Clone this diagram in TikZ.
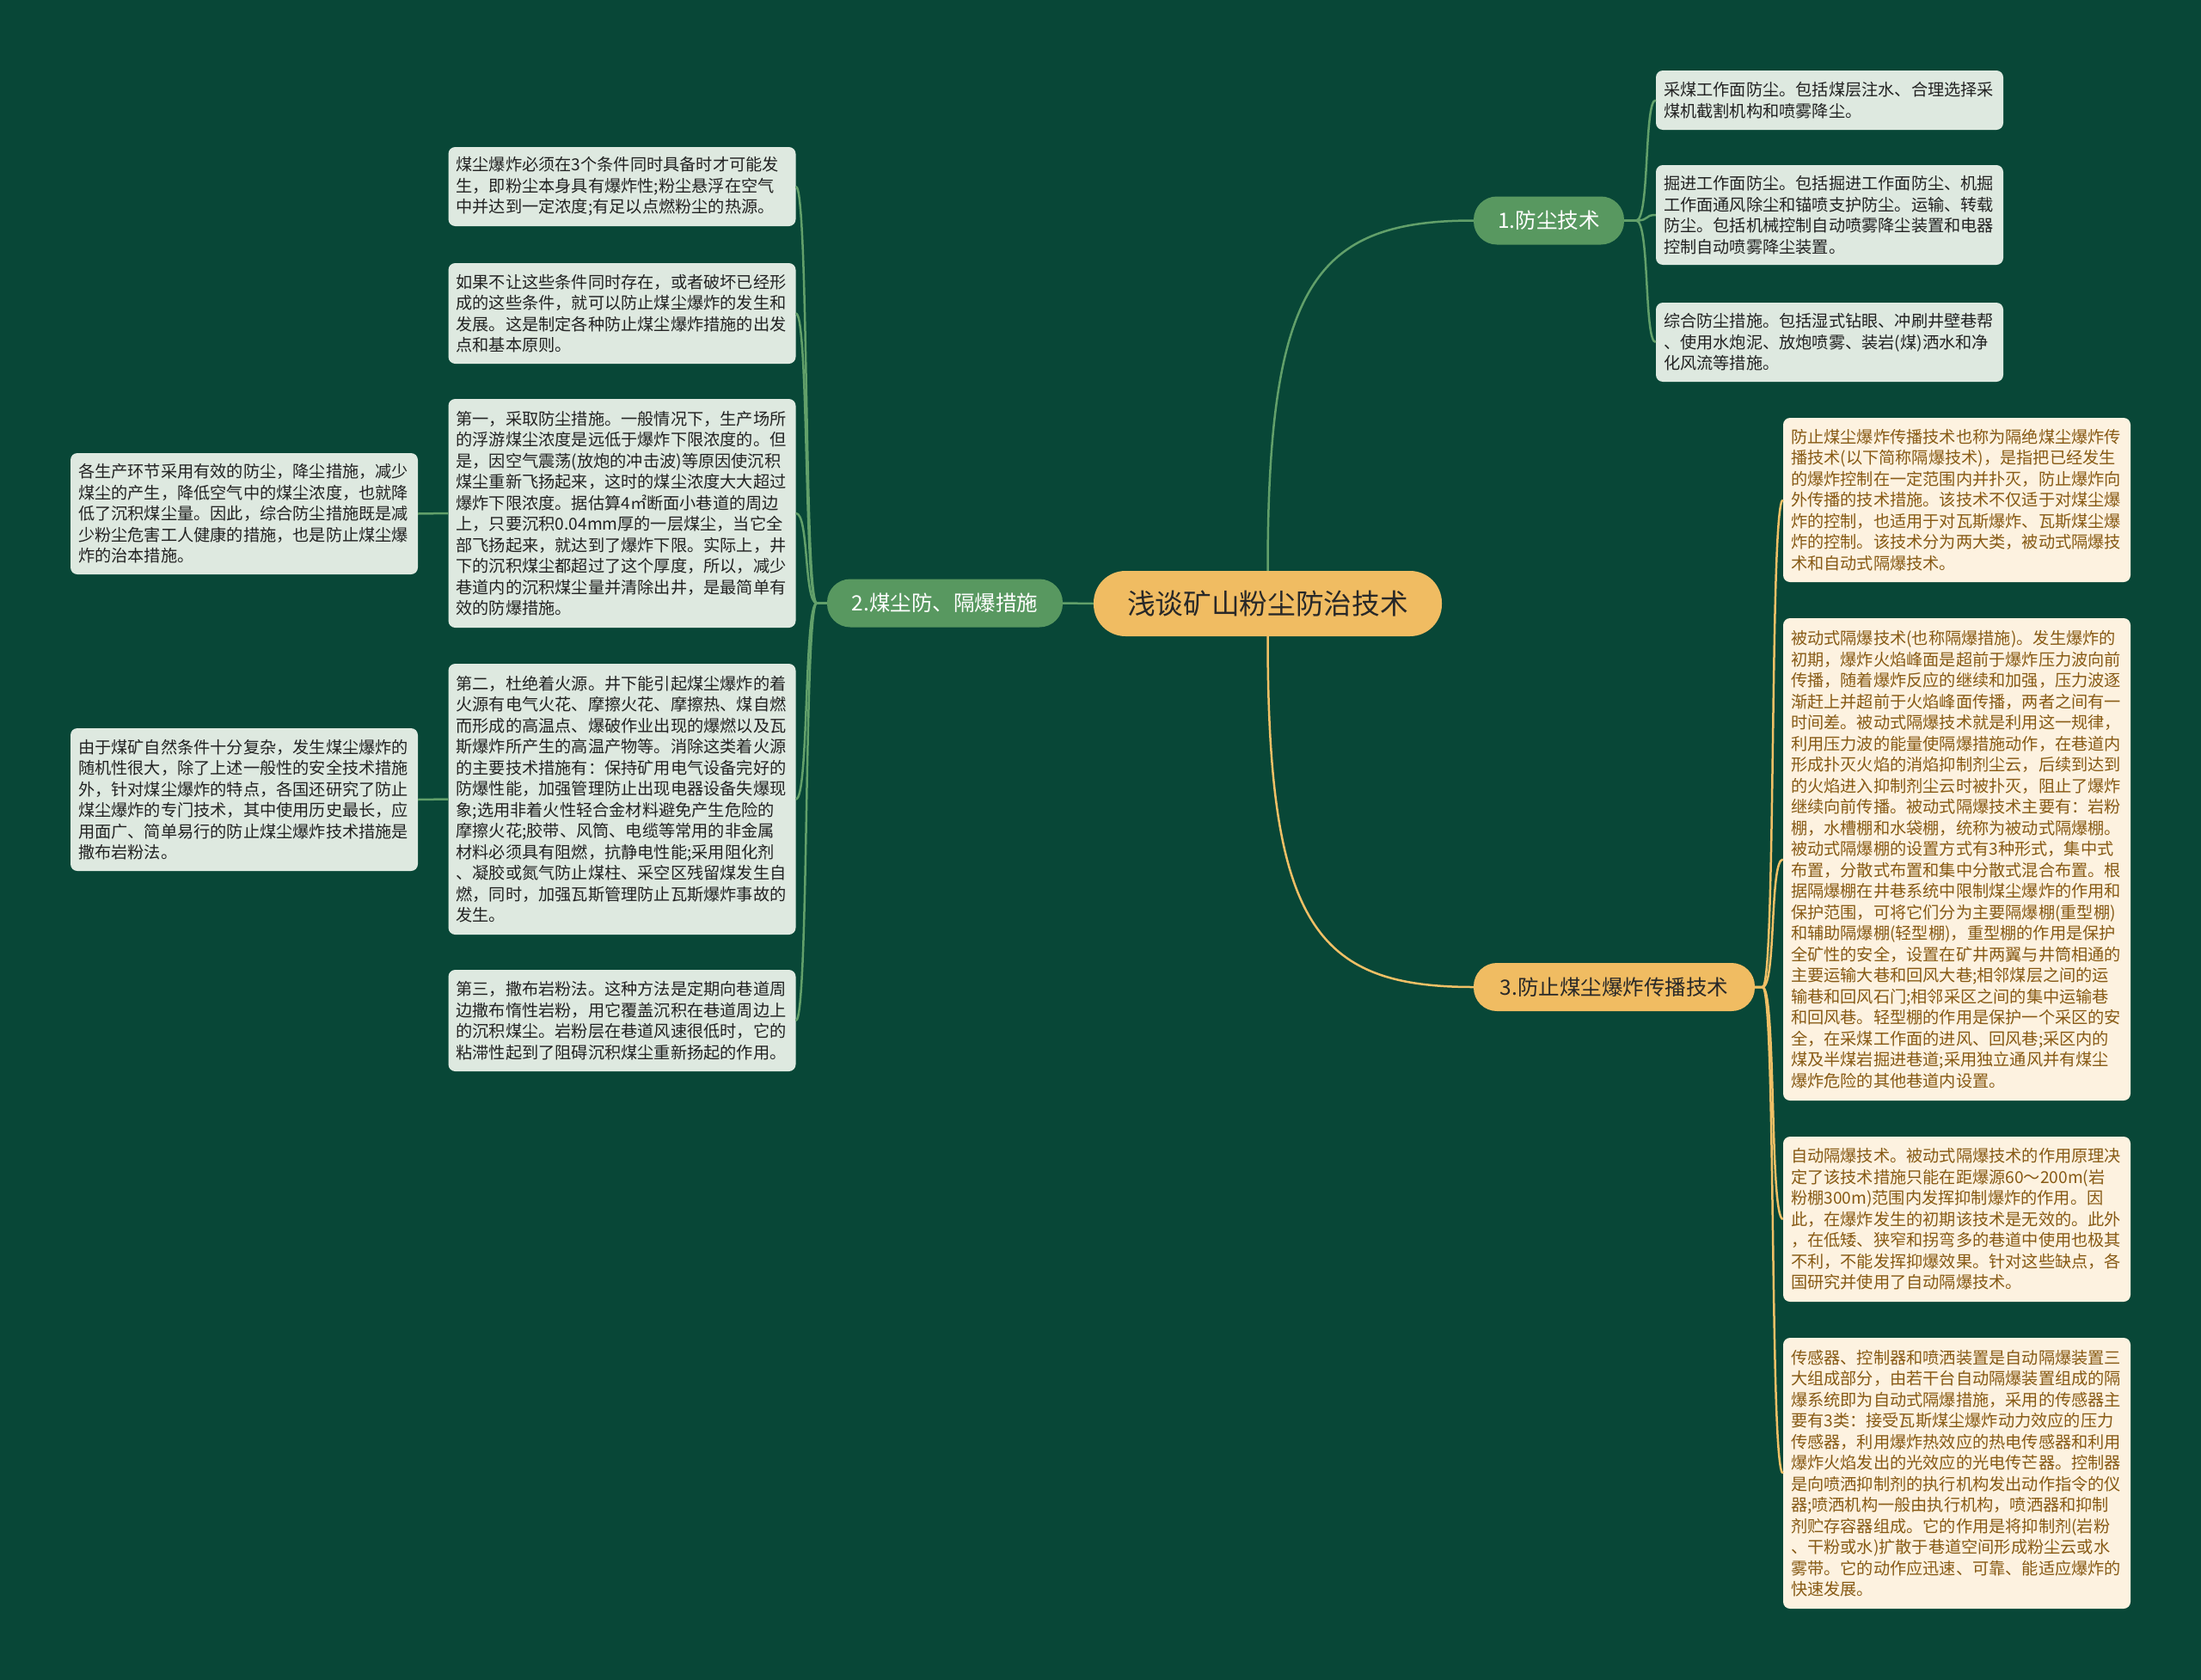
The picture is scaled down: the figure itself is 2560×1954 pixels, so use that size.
\documentclass[tikz,border=0pt]{standalone}
\usepackage{fontspec}
\setmainfont{Noto Sans CJK SC}
\definecolor{bg}{RGB}{8,71,55}
\definecolor{gfill}{RGB}{222,233,224}
\definecolor{gtext}{RGB}{34,34,34}
\definecolor{ofill}{RGB}{253,242,224}
\definecolor{otext}{RGB}{135,90,20}
\definecolor{gpillc}{RGB}{88,152,96}
\definecolor{opillc}{RGB}{240,188,98}
\definecolor{gline}{RGB}{98,160,106}
\definecolor{oline}{RGB}{240,192,102}
\definecolor{darktext}{RGB}{40,40,40}
\begin{document}
\begin{tikzpicture}[x=1pt,y=-1pt,
  gbox/.style={fill=gfill, rounded corners=8pt, text width=386pt, inner xsep=9pt, inner ysep=0pt, align=left, text=gtext, font=\fontsize{19.2pt}{24.5pt}\selectfont},
  obox/.style={gbox, fill=ofill, text=otext},
  gpill/.style={fill=gpillc, text=white, rounded corners=27pt, minimum height=56pt, inner sep=0pt, font=\fontsize{24.5pt}{28pt}\selectfont},
  opill/.style={gpill, fill=opillc, text=darktext},
  glink/.style={draw=gline, line width=2.5pt},
  olink/.style={draw=oline, line width=2.5pt}
]
\fill[bg] (0,0) rectangle (2560,1954);
\useasboundingbox (0,0) rectangle (2560,1954);

% main nodes
\node[opill, minimum width=405pt, minimum height=76pt, rounded corners=37pt, font=\fontsize{32.7pt}{36pt}\selectfont] (root) at (1474.5,702) {浅谈矿山粉尘防治技术};
\node[gpill, minimum width=175pt] (n1) at (1801.5,256.5) {1.防尘技术};
\node[gpill, minimum width=274pt] (n2) at (1099,701.5) {2.煤尘防、隔爆措施};
\node[opill, minimum width=327pt] (n3) at (1877.5,1148) {3.防止煤尘爆炸传播技术};

% branch 1
\node[gbox, minimum height=69pt] (r1a) at (2128,116.5) {采煤工作面防尘。包括煤层注水、合理选择采\\煤机截割机构和喷雾降尘。};
\node[gbox, minimum height=116pt] (r1b) at (2128,250) {掘进工作面防尘。包括掘进工作面防尘、机掘\\工作面通风除尘和锚喷支护防尘。运输、转载\\防尘。包括机械控制自动喷雾降尘装置和电器\\控制自动喷雾降尘装置。};
\node[gbox, minimum height=92pt] (r1c) at (2128,398) {综合防尘措施。包括湿式钻眼、冲刷井壁巷帮\\、使用水炮泥、放炮喷雾、装岩(煤)洒水和净\\化风流等措施。};

% branch 3
\node[obox, minimum height=191pt] (r3a) at (2276,581.5) {防止煤尘爆炸传播技术也称为隔绝煤尘爆炸传\\播技术(以下简称隔爆技术)，是指把已经发生\\的爆炸控制在一定范围内并扑灭，防止爆炸向\\外传播的技术措施。该技术不仅适于对煤尘爆\\炸的控制，也适用于对瓦斯爆炸、瓦斯煤尘爆\\炸的控制。该技术分为两大类，被动式隔爆技\\术和自动式隔爆技术。};
\node[obox, minimum height=561pt] (r3b) at (2276,999.5) {被动式隔爆技术(也称隔爆措施)。发生爆炸的\\初期，爆炸火焰峰面是超前于爆炸压力波向前\\传播，随着爆炸反应的继续和加强，压力波逐\\渐赶上并超前于火焰峰面传播，两者之间有一\\时间差。被动式隔爆技术就是利用这一规律，\\利用压力波的能量使隔爆措施动作，在巷道内\\形成扑灭火焰的消焰抑制剂尘云，后续到达到\\的火焰进入抑制剂尘云时被扑灭，阻止了爆炸\\继续向前传播。被动式隔爆技术主要有：岩粉\\棚，水槽棚和水袋棚，统称为被动式隔爆棚。\\被动式隔爆棚的设置方式有3种形式，集中式\\布置，分散式布置和集中分散式混合布置。根\\据隔爆棚在井巷系统中限制煤尘爆炸的作用和\\保护范围，可将它们分为主要隔爆棚(重型棚)\\和辅助隔爆棚(轻型棚)，重型棚的作用是保护\\全矿性的安全，设置在矿井两翼与井筒相通的\\主要运输大巷和回风大巷;相邻煤层之间的运\\输巷和回风石门;相邻采区之间的集中运输巷\\和回风巷。轻型棚的作用是保护一个采区的安\\全，在采煤工作面的进风、回风巷;采区内的\\煤及半煤岩掘进巷道;采用独立通风并有煤尘\\爆炸危险的其他巷道内设置。};
\node[obox, minimum height=192pt] (r3c) at (2276,1418) {自动隔爆技术。被动式隔爆技术的作用原理决\\定了该技术措施只能在距爆源60～200m(岩\\粉棚300m)范围内发挥抑制爆炸的作用。因\\此，在爆炸发生的初期该技术是无效的。此外\\，在低矮、狭窄和拐弯多的巷道中使用也极其\\不利，不能发挥抑爆效果。针对这些缺点，各\\国研究并使用了自动隔爆技术。};
\node[obox, minimum height=315pt] (r3d) at (2276,1713.5) {传感器、控制器和喷洒装置是自动隔爆装置三\\大组成部分，由若干台自动隔爆装置组成的隔\\爆系统即为自动式隔爆措施，采用的传感器主\\要有3类：接受瓦斯煤尘爆炸动力效应的压力\\传感器，利用爆炸热效应的热电传感器和利用\\爆炸火焰发出的光效应的光电传芒器。控制器\\是向喷洒抑制剂的执行机构发出动作指令的仪\\器;喷洒机构一般由执行机构，喷洒器和抑制\\剂贮存容器组成。它的作用是将抑制剂(岩粉\\、干粉或水)扩散于巷道空间形成粉尘云或水\\雾带。它的动作应迅速、可靠、能适应爆炸的\\快速发展。};

% branch 2
\node[gbox, minimum height=92pt] (l1) at (723.5,217) {煤尘爆炸必须在3个条件同时具备时才可能发\\生，即粉尘本身具有爆炸性;粉尘悬浮在空气\\中并达到一定浓度;有足以点燃粉尘的热源。};
\node[gbox, minimum height=117pt] (l2) at (723.5,364.5) {如果不让这些条件同时存在，或者破坏已经形\\成的这些条件，就可以防止煤尘爆炸的发生和\\发展。这是制定各种防止煤尘爆炸措施的出发\\点和基本原则。};
\node[gbox, minimum height=266pt] (l3) at (723.5,597) {第一，采取防尘措施。一般情况下，生产场所\\的浮游煤尘浓度是远低于爆炸下限浓度的。但\\是，因空气震荡(放炮的冲击波)等原因使沉积\\煤尘重新飞扬起来，这时的煤尘浓度大大超过\\爆炸下限浓度。据估算4㎡断面小巷道的周边\\上，只要沉积0.04mm厚的一层煤尘，当它全\\部飞扬起来，就达到了爆炸下限。实际上，井\\下的沉积煤尘都超过了这个厚度，所以，减少\\巷道内的沉积煤尘量并清除出井，是最简单有\\效的防爆措施。};
\node[gbox, minimum height=315pt] (l4) at (723.5,929.5) {第二，杜绝着火源。井下能引起煤尘爆炸的着\\火源有电气火花、摩擦火花、摩擦热、煤自燃\\而形成的高温点、爆破作业出现的爆燃以及瓦\\斯爆炸所产生的高温产物等。消除这类着火源\\的主要技术措施有：保持矿用电气设备完好的\\防爆性能，加强管理防止出现电器设备失爆现\\象;选用非着火性轻合金材料避免产生危险的\\摩擦火花;胶带、风筒、电缆等常用的非金属\\材料必须具有阻燃，抗静电性能;采用阻化剂\\、凝胶或氮气防止煤柱、采空区残留煤发生自\\燃，同时，加强瓦斯管理防止瓦斯爆炸事故的\\发生。};
\node[gbox, minimum height=118pt] (l5) at (723.5,1187) {第三，撒布岩粉法。这种方法是定期向巷道周\\边撒布惰性岩粉，用它覆盖沉积在巷道周边上\\的沉积煤尘。岩粉层在巷道风速很低时，它的\\粘滞性起到了阻碍沉积煤尘重新扬起的作用。};
\node[gbox, minimum height=141pt] (fl1) at (284,597.5) {各生产环节采用有效的防尘，降尘措施，减少\\煤尘的产生，降低空气中的煤尘浓度，也就降\\低了沉积煤尘量。因此，综合防尘措施既是减\\少粉尘危害工人健康的措施，也是防止煤尘爆\\炸的治本措施。};
\node[gbox, minimum height=166pt] (fl2) at (284,930) {由于煤矿自然条件十分复杂，发生煤尘爆炸的\\随机性很大，除了上述一般性的安全技术措施\\外，针对煤尘爆炸的特点，各国还研究了防止\\煤尘爆炸的专门技术，其中使用历史最长，应\\用面广、简单易行的防止煤尘爆炸技术措施是\\撒布岩粉法。};

% connectors from root
\draw[glink] (root.north) .. controls (1474.5,330) and (1530,256.5) .. (n1.west);
\draw[olink] (root.south) .. controls (1474.5,1075) and (1530,1148) .. (n3.west);
\draw[glink] (root.west) -- (n2.east);

% branch 1 connectors
\draw[glink] (n1.east) -- (1903,256.5) .. controls (1919,256.5) and (1912,116.5) .. (r1a.west);
\draw[glink] (n1.east) -- (1903,256.5) .. controls (1919,256.5) and (1912,250) .. (r1b.west);
\draw[glink] (n1.east) -- (1903,256.5) .. controls (1919,256.5) and (1912,398) .. (r1c.west);

% branch 3 connectors
\draw[olink] (n3.east) -- (2050,1148) .. controls (2066,1148) and (2058,581.5) .. (r3a.west);
\draw[olink] (n3.east) -- (2050,1148) .. controls (2066,1148) and (2058,999.5) .. (r3b.west);
\draw[olink] (n3.east) -- (2050,1148) .. controls (2066,1148) and (2058,1418) .. (r3c.west);
\draw[olink] (n3.east) -- (2050,1148) .. controls (2066,1148) and (2058,1713.5) .. (r3d.west);

% branch 2 connectors
\draw[glink] (n2.west) -- (950,701.5) .. controls (935,701.5) and (941,217) .. (l1.east);
\draw[glink] (n2.west) -- (950,701.5) .. controls (935,701.5) and (941,364.5) .. (l2.east);
\draw[glink] (n2.west) -- (950,701.5) .. controls (935,701.5) and (941,597) .. (l3.east);
\draw[glink] (n2.west) -- (950,701.5) .. controls (935,701.5) and (941,929.5) .. (l4.east);
\draw[glink] (n2.west) -- (950,701.5) .. controls (935,701.5) and (941,1187) .. (l5.east);
\draw[glink] (l3.west) -- (fl1.east);
\draw[glink] (l4.west) -- (fl2.east);
\end{tikzpicture}
\end{document}
